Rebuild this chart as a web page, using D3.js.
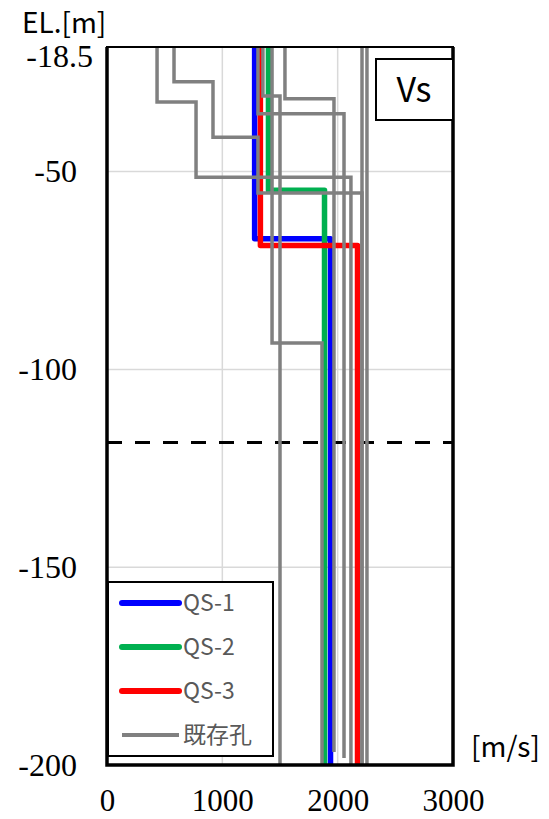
<!DOCTYPE html>
<html>
<head>
<meta charset="utf-8">
<script src="https://cdn.jsdelivr.net/npm/d3@7"></script>
<style>
body { margin: 0; background: #fff; }
svg { display: block; background: #fff; }
.axis text { font-family: "Liberation Serif", "Times New Roman", serif; fill: #000; }
.label { font-family: "Noto Sans CJK JP", "Noto Sans", sans-serif; fill: #000; }
.legend text { font-family: "Noto Sans CJK JP", "Noto Sans", sans-serif; fill: #595959; }
</style>
</head>
<body>
<svg width="549" height="819"></svg>
<script>
// velocity [m/s] vs elevation EL.[m]
let xTicks = [0, 1000, 2000, 3000],
    yTicks = [-18.5, -50, -100, -150, -200],
    gridX = [1000, 2000],
    gridY = [-50, -100, -150];

let seriesNames = ["QS-1", "QS-2", "QS-3", "既存孔"],
    seriesColors = ["#0000ff", "#00b050", "#ff0000", "#808080"];

// layer boundaries (top..bottom) and Vs of each layer
let qs1Depth = [-18.5, -67.0, -200], qs1Vs = [1280, 1938];
let qs2Depth = [-18.5, -54.7, -200], qs2Vs = [1400, 1886];
let qs3Depth = [-18.5, -68.7, -200], qs3Vs = [1330, 2172];

// existing boreholes
let hole1Depth = [-18.5, -32.4, -51.4, -200],        hole1Vs = [434, 772, 2115];
let hole2Depth = [-18.5, -27.3, -41.3, -55.4, -200], hole2Vs = [581, 919, 1309, 2211];
let hole3Depth = [-18.5, -35.4, -198.2],             hole3Vs = [1309, 2055];
let hole4Depth = [-18.5, -30.9, -200],               hole4Vs = [1352, 1500];
let hole5Depth = [-18.5, -93.3, -200],               hole5Vs = [1431, 1864];
let hole6Depth = [-18.5, -31.6, -196.7],             hole6Vs = [1543, 1968];
let hole7Depth = [-18.5, -200],                      hole7Vs = [2211];
let hole8Depth = [-18.5, -200],                      hole8Vs = [2254];

let dashedLevel = -118.5;

let svg = d3.select("svg");

let x = d3.scaleLinear().domain([0, 3000]).range([107, 453]),
    y = d3.scaleLinear().domain([-18.5, -200]).range([47, 765]);

function steps(depth, vs) {
  let pts = [];
  vs.forEach(function(v, i) {
    pts.push([v, depth[i]], [v, depth[i + 1]]);
  });
  return pts;
}

let line = d3.line()
    .x(function(d) { return x(d[0]); })
    .y(function(d) { return y(d[1]); });

// grid
let grid = svg.append("g");
grid.selectAll(".gx")
    .data(gridX)
  .enter().append("line")
    .attr("x1", x).attr("x2", x)
    .attr("y1", y(-18.5)).attr("y2", y(-200))
    .attr("stroke", "#d9d9d9").attr("stroke-width", 1.5);
grid.selectAll(".gy")
    .data(gridY)
  .enter().append("line")
    .attr("x1", x(0)).attr("x2", x(3000))
    .attr("y1", y).attr("y2", y)
    .attr("stroke", "#d9d9d9").attr("stroke-width", 1.5);

// dashed reference level
svg.append("line")
    .attr("x1", x(0)).attr("x2", x(3000))
    .attr("y1", y(dashedLevel)).attr("y2", y(dashedLevel))
    .attr("stroke", "#000").attr("stroke-width", 3)
    .attr("stroke-dasharray", "15,13");

// QS series
let qs = [steps(qs1Depth, qs1Vs), steps(qs2Depth, qs2Vs), steps(qs3Depth, qs3Vs)];
svg.append("g").selectAll("path")
    .data(qs)
  .enter().append("path")
    .attr("d", line)
    .attr("fill", "none")
    .attr("stroke", function(d, i) { return seriesColors[i]; })
    .attr("stroke-width", 5.5)
    .attr("stroke-linejoin", "round");

// existing holes on top
let holes = [
  steps(hole1Depth, hole1Vs), steps(hole2Depth, hole2Vs),
  steps(hole3Depth, hole3Vs), steps(hole4Depth, hole4Vs),
  steps(hole5Depth, hole5Vs), steps(hole6Depth, hole6Vs),
  steps(hole7Depth, hole7Vs), steps(hole8Depth, hole8Vs)
];
svg.append("g").selectAll("path")
    .data(holes)
  .enter().append("path")
    .attr("d", line)
    .attr("fill", "none")
    .attr("stroke", seriesColors[3])
    .attr("stroke-width", 3.5);

// frame
svg.append("rect")
    .attr("x", x(0)).attr("y", y(-18.5))
    .attr("width", x(3000) - x(0)).attr("height", y(-200) - y(-18.5))
    .attr("fill", "none").attr("stroke", "#000").attr("stroke-width", 2);
svg.append("path")
    .attr("d", "M" + x(0) + "," + y(-18.5) + "V" + y(-200) + "H" + x(3000) + "V" + y(-18.5))
    .attr("fill", "none").attr("stroke", "#000").attr("stroke-width", 3.5);

// axes
let plain = function(d) { return String(d); };

let yAxis = svg.append("g")
    .attr("class", "axis")
    .attr("transform", "translate(" + x(0) + ",0)")
    .call(d3.axisLeft(y).tickValues(yTicks).tickFormat(plain).tickSize(0).tickPadding(30));
yAxis.select(".domain").remove();
yAxis.selectAll("text").attr("font-size", 32);
yAxis.selectAll("text").filter(function(d) { return d === -18.5; })
    .attr("dx", 16).attr("dy", "0.6em");

let xAxis = svg.append("g")
    .attr("class", "axis")
    .attr("transform", "translate(0," + y(-200) + ")")
    .call(d3.axisBottom(x).tickValues(xTicks).tickFormat(plain).tickSize(0).tickPadding(24));
xAxis.select(".domain").remove();
xAxis.selectAll("text").attr("font-size", 31);

// axis titles
svg.append("text").attr("class", "label")
    .attr("x", 22).attr("y", 33)
    .attr("font-size", 28)
    .text("EL.[m]");
svg.append("text").attr("class", "label")
    .attr("x", 471).attr("y", 757)
    .attr("font-size", 28)
    .text("[m/s]");

// Vs box
svg.append("rect")
    .attr("x", 376).attr("y", 59).attr("width", 77).attr("height", 61)
    .attr("fill", "#fff").attr("stroke", "#000").attr("stroke-width", 2);
svg.append("text").attr("class", "label")
    .attr("x", 414).attr("y", 102)
    .attr("text-anchor", "middle")
    .attr("font-size", 34)
    .text("Vs");

// legend
let legend = svg.append("g").attr("class", "legend");
legend.append("rect")
    .attr("x", 108).attr("y", 582).attr("width", 165).attr("height", 174)
    .attr("fill", "#fff").attr("stroke", "#000").attr("stroke-width", 2);
let item = legend.selectAll(".item")
    .data(seriesNames)
  .enter().append("g")
    .attr("transform", function(d, i) { return "translate(0," + (603 + i * 44) + ")"; });
item.append("line")
    .attr("x1", 122).attr("x2", 179)
    .attr("stroke", function(d, i) { return seriesColors[i]; })
    .attr("stroke-width", function(d, i) { return i < 3 ? 6 : 4; })
    .attr("stroke-linecap", function(d, i) { return i < 3 ? "round" : "butt"; });
item.append("text")
    .attr("x", 183).attr("dy", "0.35em")
    .attr("font-size", 23)
    .text(function(d) { return d; });
</script>
</body>
</html>
